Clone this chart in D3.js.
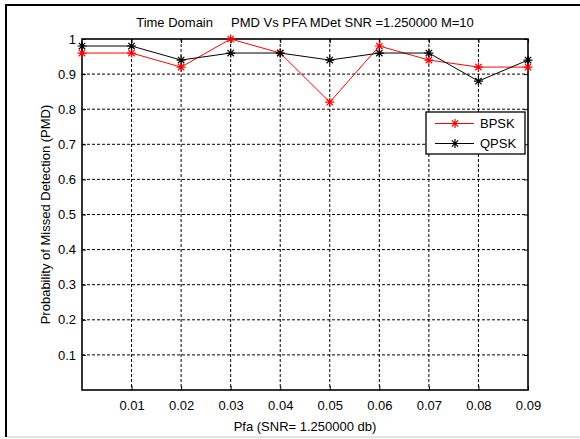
<!DOCTYPE html>
<html>
<head>
<meta charset="utf-8">
<script src="https://cdn.jsdelivr.net/npm/d3@7"></script>
<style>
  body { margin: 0; background: #fff; }
  svg { display: block; font-family: "Liberation Sans", Arial, sans-serif; }
</style>
</head>
<body>
<div id="chart"></div>
<script>
// Data
const pfa = [0, 0.01, 0.02, 0.03, 0.04, 0.05, 0.06, 0.07, 0.08, 0.09];
const bpsk = [0.96, 0.96, 0.92, 1.0, 0.96, 0.82, 0.98, 0.94, 0.92, 0.92];
const qpsk = [0.98, 0.98, 0.94, 0.96, 0.96, 0.94, 0.96, 0.96, 0.88, 0.94];
const xTicks = [0.01, 0.02, 0.03, 0.04, 0.05, 0.06, 0.07, 0.08, 0.09];
const yTicks = [0.1, 0.2, 0.3, 0.4, 0.5, 0.6, 0.7, 0.8, 0.9, 1];
const seriesNames = ["BPSK", "QPSK"];
const seriesColors = ["#ff0000", "#000000"];

const width = 580, height = 439;
const margin = { top: 39, right: 52, bottom: 49, left: 82 };
const innerW = width - margin.left - margin.right,
      innerH = height - margin.top - margin.bottom;
const fontSize = 13;

const svg = d3.select("#chart").append("svg")
    .attr("width", width)
    .attr("height", height);

// outer figure frame
svg.append("line").attr("x1", 5).attr("x2", 580).attr("y1", 5).attr("y2", 5)
    .attr("stroke", "#000").attr("stroke-width", 2);
svg.append("line").attr("x1", 6).attr("x2", 6).attr("y1", 4).attr("y2", 437)
    .attr("stroke", "#000").attr("stroke-width", 2);
svg.append("line").attr("x1", 7).attr("x2", 580).attr("y1", 437).attr("y2", 437)
    .attr("stroke", "#c8c8c8").attr("stroke-width", 1);

const g = svg.append("g").attr("transform", `translate(${margin.left},${margin.top})`);

const x = d3.scaleLinear().domain([0, 0.09]).range([0, innerW]);
const y = d3.scaleLinear().domain([0, 1]).range([innerH, 0]);

// grid
g.append("g").selectAll("line").data(xTicks.slice(0, -1)).join("line")
    .attr("x1", d => x(d)).attr("x2", d => x(d))
    .attr("y1", 0).attr("y2", innerH)
    .attr("stroke", "#000").attr("stroke-width", 1)
    .attr("stroke-dasharray", "3,2");
g.append("g").selectAll("line").data(yTicks.slice(0, -1)).join("line")
    .attr("x1", 0).attr("x2", innerW)
    .attr("y1", d => y(d)).attr("y2", d => y(d))
    .attr("stroke", "#000").attr("stroke-width", 1)
    .attr("stroke-dasharray", "3,2");

// axes with inward ticks
const fmt = d3.format("~g");
g.append("g").attr("transform", `translate(0,${innerH})`)
    .call(d3.axisBottom(x).tickValues(xTicks).tickSize(-4).tickPadding(11).tickFormat(fmt));
g.append("g")
    .call(d3.axisLeft(y).tickValues(yTicks).tickSize(-4).tickPadding(6).tickFormat(fmt));
g.append("g").call(d3.axisTop(x).tickValues(xTicks).tickSize(-4).tickFormat(""));
g.append("g").attr("transform", `translate(${innerW},0)`)
    .call(d3.axisRight(y).tickValues(yTicks).tickSize(-4).tickFormat(""));

g.selectAll(".domain").remove();
g.selectAll(".tick line").attr("stroke", "#000");
g.selectAll(".tick text").attr("font-size", fontSize).attr("fill", "#000")
    .attr("font-family", "Liberation Sans, Arial, sans-serif");

// axes box
g.append("rect").attr("width", innerW).attr("height", innerH)
    .attr("fill", "none").attr("stroke", "#000").attr("stroke-width", 1.6);

// asterisk marker
function star(sel, cx, cy, color) {
    const r = 4.5, d = 3.2;
    const p = `M${cx - r},${cy}L${cx + r},${cy}M${cx},${cy - r}L${cx},${cy + r}` +
        `M${cx - d},${cy - d}L${cx + d},${cy + d}M${cx - d},${cy + d}L${cx + d},${cy - d}`;
    sel.append("path").attr("d", p).attr("stroke", color).attr("stroke-width", 1.2).attr("fill", "none");
}

const line = d3.line().x(d => x(d[0])).y(d => y(d[1]));
[bpsk, qpsk].forEach((vals, i) => {
    const pts = pfa.map((p, j) => [p, vals[j]]);
    g.append("path").datum(pts).attr("d", line)
        .attr("fill", "none").attr("stroke", seriesColors[i]).attr("stroke-width", 1);
    const mg = g.append("g");
    pts.forEach(p => star(mg, x(p[0]), y(p[1]), seriesColors[i]));
});

// legend
const lg = svg.append("g").attr("transform", "translate(426,112)");
lg.append("rect").attr("width", 99).attr("height", 42)
    .attr("fill", "#fff").attr("stroke", "#000").attr("stroke-width", 1.3);
seriesNames.forEach((name, i) => {
    const ly = 11.5 + i * 20;
    lg.append("line").attr("x1", 9).attr("x2", 48).attr("y1", ly).attr("y2", ly)
        .attr("stroke", seriesColors[i]).attr("stroke-width", 1);
    star(lg, 29, ly, seriesColors[i]);
    lg.append("text").attr("x", 54).attr("y", ly + 4.5)
        .attr("font-size", fontSize).attr("fill", "#000").text(name);
});

// title and axis labels
svg.append("text").attr("x", margin.left + innerW / 2).attr("y", 27)
    .attr("text-anchor", "middle").attr("font-size", fontSize).attr("fill", "#000")
    .attr("xml:space", "preserve").style("white-space", "pre")
    .text("Time Domain     PMD Vs PFA MDet SNR =1.250000 M=10");
svg.append("text").attr("x", margin.left + innerW / 2).attr("y", 431)
    .attr("text-anchor", "middle").attr("font-size", fontSize).attr("fill", "#000")
    .text("Pfa (SNR= 1.250000 db)");
svg.append("text").attr("transform", `translate(50,${margin.top + innerH / 2}) rotate(-90)`)
    .attr("text-anchor", "middle").attr("font-size", fontSize).attr("fill", "#000")
    .text("Probability of Missed Detection (PMD)");
</script>
</body>
</html>
